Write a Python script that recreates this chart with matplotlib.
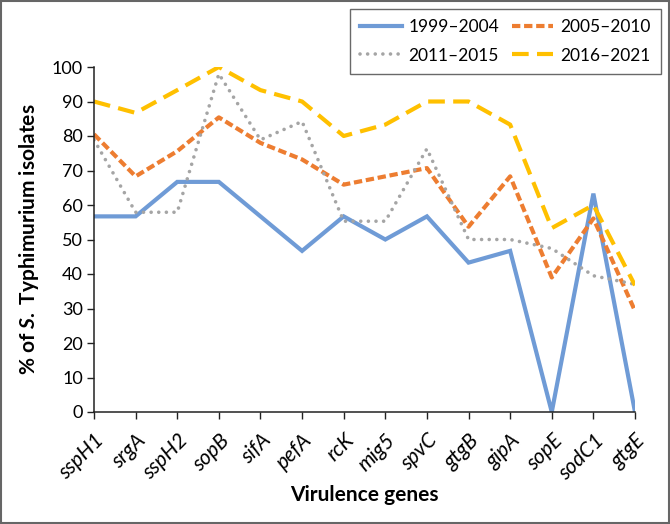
import matplotlib
matplotlib.use("Agg")
import matplotlib.pyplot as plt
from matplotlib.patches import Rectangle

genes = ["sspH1", "srgA", "sspH2", "sopB", "sifA", "pefA", "rcK", "mig5",
         "spvC", "gtgB", "gipA", "sopE", "sodC1", "gtgE"]
p1999_2004 = [56.7, 56.7, 66.7, 66.7, 56.7, 46.7, 56.7, 50.0, 56.7, 43.3, 46.7, 0.0, 63.3, 0.0]
p2005_2010 = [80.5, 68.3, 75.6, 85.4, 78.0, 73.2, 65.9, 68.3, 70.7, 53.7, 68.3, 39.0, 56.1, 29.3]
p2011_2015 = [78.9, 57.9, 57.9, 98.0, 78.9, 84.2, 55.3, 55.3, 76.3, 50.0, 50.0, 47.4, 39.5, 37.0]
p2016_2021 = [90.0, 86.7, 93.3, 100.0, 93.3, 90.0, 80.0, 83.3, 90.0, 90.0, 83.3, 53.3, 60.0, 36.7]
series_labels = ["1999–2004", "2005–2010", "2011–2015", "2016–2021"]
yticks = list(range(0, 101, 10))

plt.rcParams['font.family'] = ['Lato', 'DejaVu Sans']
plt.rcParams['mathtext.fontset'] = 'custom'
plt.rcParams['mathtext.it'] = 'Lato:italic:bold'
plt.rcParams['mathtext.rm'] = 'Lato:bold'

W, H = 670, 524
fig = plt.figure(figsize=(W/100, H/100), dpi=100)
ax = fig.add_axes([94/W, 1-412/H, (635-94)/W, (412-67)/H])

x = list(range(len(genes)))
h1, = ax.plot(x, p1999_2004, color="#6F9BD6", lw=3.0, solid_joinstyle='miter', label=series_labels[0])
h2, = ax.plot(x, p2005_2010, color="#ED7D31", lw=3.0, dashes=(2.0, 0.9), label=series_labels[1])
h3, = ax.plot(x, p2011_2015, color="#A5A5A5", lw=2.6, dashes=(0.01, 2.1), dash_capstyle='round', label=series_labels[2])
h4, = ax.plot(x, p2016_2021, color="#FFC000", lw=3.0, dashes=(4.0, 2.0), label=series_labels[3])

ax.set_xlim(0, len(genes)-1)
ax.set_ylim(0, 100)
ax.set_yticks(yticks)
ax.set_yticklabels([str(t) for t in yticks], fontsize=13)
ax.set_xticks(x)
ax.set_xticklabels(genes, rotation=45, ha='right', rotation_mode='anchor',
                   fontsize=15, style='italic')
ax.tick_params(axis='both', direction='out', length=5, width=1, color='#222222')
ax.tick_params(axis='x', pad=8)
ax.tick_params(axis='y', pad=3)
for s in ['top', 'right']:
    ax.spines[s].set_visible(False)
for s in ['left', 'bottom']:
    ax.spines[s].set_color('#222222')
    ax.spines[s].set_linewidth(1.1)

ax.set_xlabel("Virulence genes", fontsize=15, fontweight='bold', labelpad=1)
ax.set_ylabel(r"% of $\mathit{S.}$ Typhimurium isolates", fontsize=15, fontweight='bold', labelpad=8)

leg = fig.legend([h1, h3, h2, h4], [series_labels[0], series_labels[2], series_labels[1], series_labels[3]],
                 loc='upper right', bbox_to_anchor=(661/W, 1-9/H), ncol=2,
                 fontsize=12.5, frameon=True, fancybox=False, handlelength=2.4,
                 columnspacing=0.7, borderpad=0.6, labelspacing=0.7, handletextpad=0.4,
                 borderaxespad=0)
leg.get_frame().set_edgecolor('#444444')
leg.get_frame().set_linewidth(1.0)

fig.patches.append(Rectangle((0.001, 0.001), 0.997, 0.997, transform=fig.transFigure,
                             fill=False, edgecolor='#666666', lw=1.5))

fig.savefig("out.png", dpi=100)
